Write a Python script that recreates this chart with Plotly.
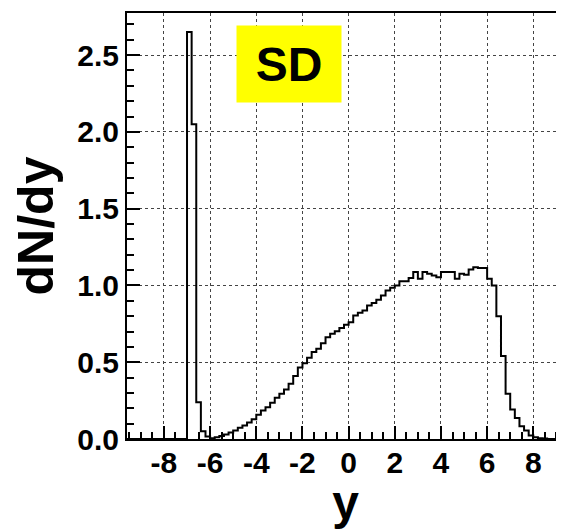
import numpy as np
import plotly.graph_objects as go

# histogram: bins of width 0.2 starting at y = -7.0
bin_start = -7.0
bin_width = 0.2
dndy = [
    2.65, 2.05, 0.24, 0.051, 0.016, 0.005, 0.012, 0.02, 0.03, 0.042,
    0.055, 0.073, 0.088, 0.107, 0.129, 0.158, 0.186, 0.207, 0.236, 0.268,
    0.294, 0.322, 0.36, 0.41, 0.465, 0.494, 0.529, 0.566, 0.588, 0.624,
    0.663, 0.685, 0.702, 0.722, 0.744, 0.761, 0.805, 0.822, 0.837, 0.87,
    0.885, 0.907, 0.935, 0.967, 0.985, 1.0, 1.028, 1.028, 1.048, 1.087,
    1.044, 1.087, 1.076, 1.065, 1.054, 1.087, 1.087, 1.087, 1.044, 1.076,
    1.07, 1.104, 1.119, 1.113, 1.113, 1.044, 1.0, 0.80, 0.54, 0.294,
    0.192, 0.136, 0.083, 0.055, 0.023, 0.012, 0.005, 0.004,
]

x_ticks = [-8, -6, -4, -2, 0, 2, 4, 6, 8]
x_tick_labels = ["-8", "-6", "-4", "-2", "0", "2", "4", "6", "8"]
y_ticks = [0.0, 0.5, 1.0, 1.5, 2.0, 2.5]

x_range = [-9.6, 9.33]
y_range = [0, 2.774]

# step outline, ROOT style (hist drawn from bin edges)
edges = bin_start + bin_width * np.arange(len(dndy) + 1)
xs = [x_range[0]] + list(edges) + [x_range[1]]
ys = [0] + list(dndy) + [0, 0]

font_family = "Liberation Sans, Arial, sans-serif"
grid_col = "#444444"

fig = go.Figure()
fig.add_trace(
    go.Scatter(
        x=xs,
        y=ys,
        mode="lines",
        line=dict(color="black", width=2, shape="hv"),
        hoverinfo="skip",
        showlegend=False,
    )
)

fig.add_annotation(
    x=-2.57,
    y=2.44,
    xref="x",
    yref="y",
    text="SD",
    showarrow=False,
    bgcolor="#FFFF00",
    width=104,
    height=76,
    borderpad=0,
    font=dict(family=font_family, size=48, color="black", weight="bold"),
)

# page body has an 8px margin, so the figure is 8px smaller each way
fig.update_layout(
    width=556,
    height=521,
    margin=dict(l=119, r=0, t=5, b=90),
    paper_bgcolor="white",
    plot_bgcolor="white",
    showlegend=False,
    font=dict(family=font_family, color="black"),
    xaxis=dict(
        range=x_range,
        automargin=False,
        tickvals=x_ticks,
        ticktext=x_tick_labels,
        ticks="inside",
        ticklen=13,
        tickwidth=1.5,
        tickcolor="black",
        ticklabelstandoff=-4,
        minor=dict(dtick=0.5, ticks="inside", ticklen=7, tickwidth=1.5, tickcolor="black", showgrid=False),
        showline=True,
        linecolor="black",
        linewidth=2,
        mirror=True,
        showgrid=True,
        gridcolor=grid_col,
        griddash="dot",
        gridwidth=1,
        zeroline=False,
        tickfont=dict(family=font_family, size=30, weight="bold"),
        title=dict(text="y", font=dict(family=font_family, size=48, weight="bold"), standoff=2),
    ),
    yaxis=dict(
        range=y_range,
        automargin=False,
        tickvals=y_ticks,
        tickformat=".1f",
        ticks="inside",
        ticklen=13,
        tickwidth=1.5,
        tickcolor="black",
        minor=dict(dtick=0.1, ticks="inside", ticklen=7, tickwidth=1.5, tickcolor="black", showgrid=False),
        showline=True,
        linecolor="black",
        linewidth=2,
        mirror=False,
        showgrid=True,
        gridcolor=grid_col,
        griddash="dot",
        gridwidth=1,
        zeroline=False,
        tickfont=dict(family=font_family, size=30, weight="bold"),
        title=dict(text="dN/dy", font=dict(family=font_family, size=50, weight="bold"), standoff=10),
    ),
)

fig.write_html("out.html")
